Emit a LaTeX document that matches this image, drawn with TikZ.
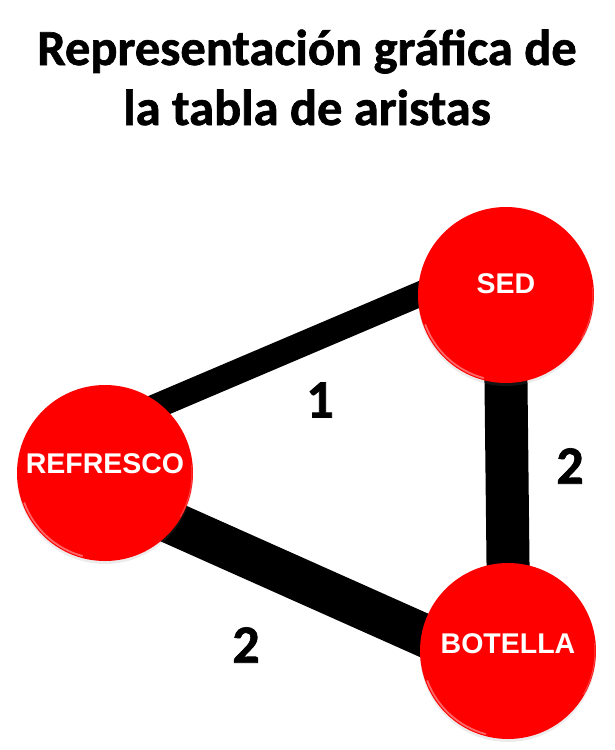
\documentclass[tikz,border=0pt]{standalone}
\usepackage{fontspec}
\setmainfont{Carlito}
\newfontfamily\heavyfont{Carlito}[UprightFont=*-Bold, FakeBold=1.3]
\newfontfamily\arialfont{Liberation Sans}
\usetikzlibrary{calc,backgrounds,shadows}
\begin{document}
\begin{tikzpicture}[x=1pt,y=1pt,
  vertex/.style={circle, fill=red, minimum size=176pt, inner sep=0pt,
    drop shadow={opacity=0.15, shadow xshift=0pt, shadow yshift=-3pt},
    path picture={
      \draw[white, opacity=0.4, line width=1.8pt]
        ($(path picture bounding box.center)+(200:86pt)$) arc[start angle=200, end angle=255, radius=86pt];
      \draw[white, opacity=0.25, line width=1pt]
        ($(path picture bounding box.center)+(-30:87pt)$) arc[start angle=-30, end angle=5, radius=87pt];
    }},
  vtext/.style={text=white, font=\arialfont\bfseries\fontsize{28.5}{28.5}\selectfont},
  edgeone/.style={line width=25pt, black, shorten <=-30pt, shorten >=-30pt},
  edgetwo/.style={line width=43pt, black, shorten <=-30pt, shorten >=-30pt},
  weight/.style={font=\heavyfont\fontsize{54}{54}\selectfont},
  titletext/.style={font=\heavyfont\fontsize{50.5}{50.5}\selectfont, anchor=base}
]
\useasboundingbox (0,0) rectangle (614,-750);

\node[titletext] (t1) at (307,-65) {Representación gráfica de};
\node[titletext] (t2) at (307,-125) {la tabla de aristas};

\node[vertex, label={[vtext, yshift=11pt]center:SED}] (sed) at (506,-295) {};
\node[vertex, label={[vtext, yshift=9pt]center:REFRESCO}] (ref) at (105,-473) {};
\node[vertex, label={[vtext, yshift=7pt]center:BOTELLA}] (bot) at (508,-651) {};

\begin{scope}[on background layer]
  \draw[edgeone] (ref.51) -- (sed.180);
  \draw[edgetwo] (ref.-36) -- (bot.169);
  \draw[edgetwo] (sed.270) -- (bot.90);
\end{scope}

\node[weight] (w1) at (320,-400) {1};
\node[weight] (w2) at (570,-466) {2};
\node[weight] (w3) at (246,-645) {2};
\end{tikzpicture}
\end{document}
